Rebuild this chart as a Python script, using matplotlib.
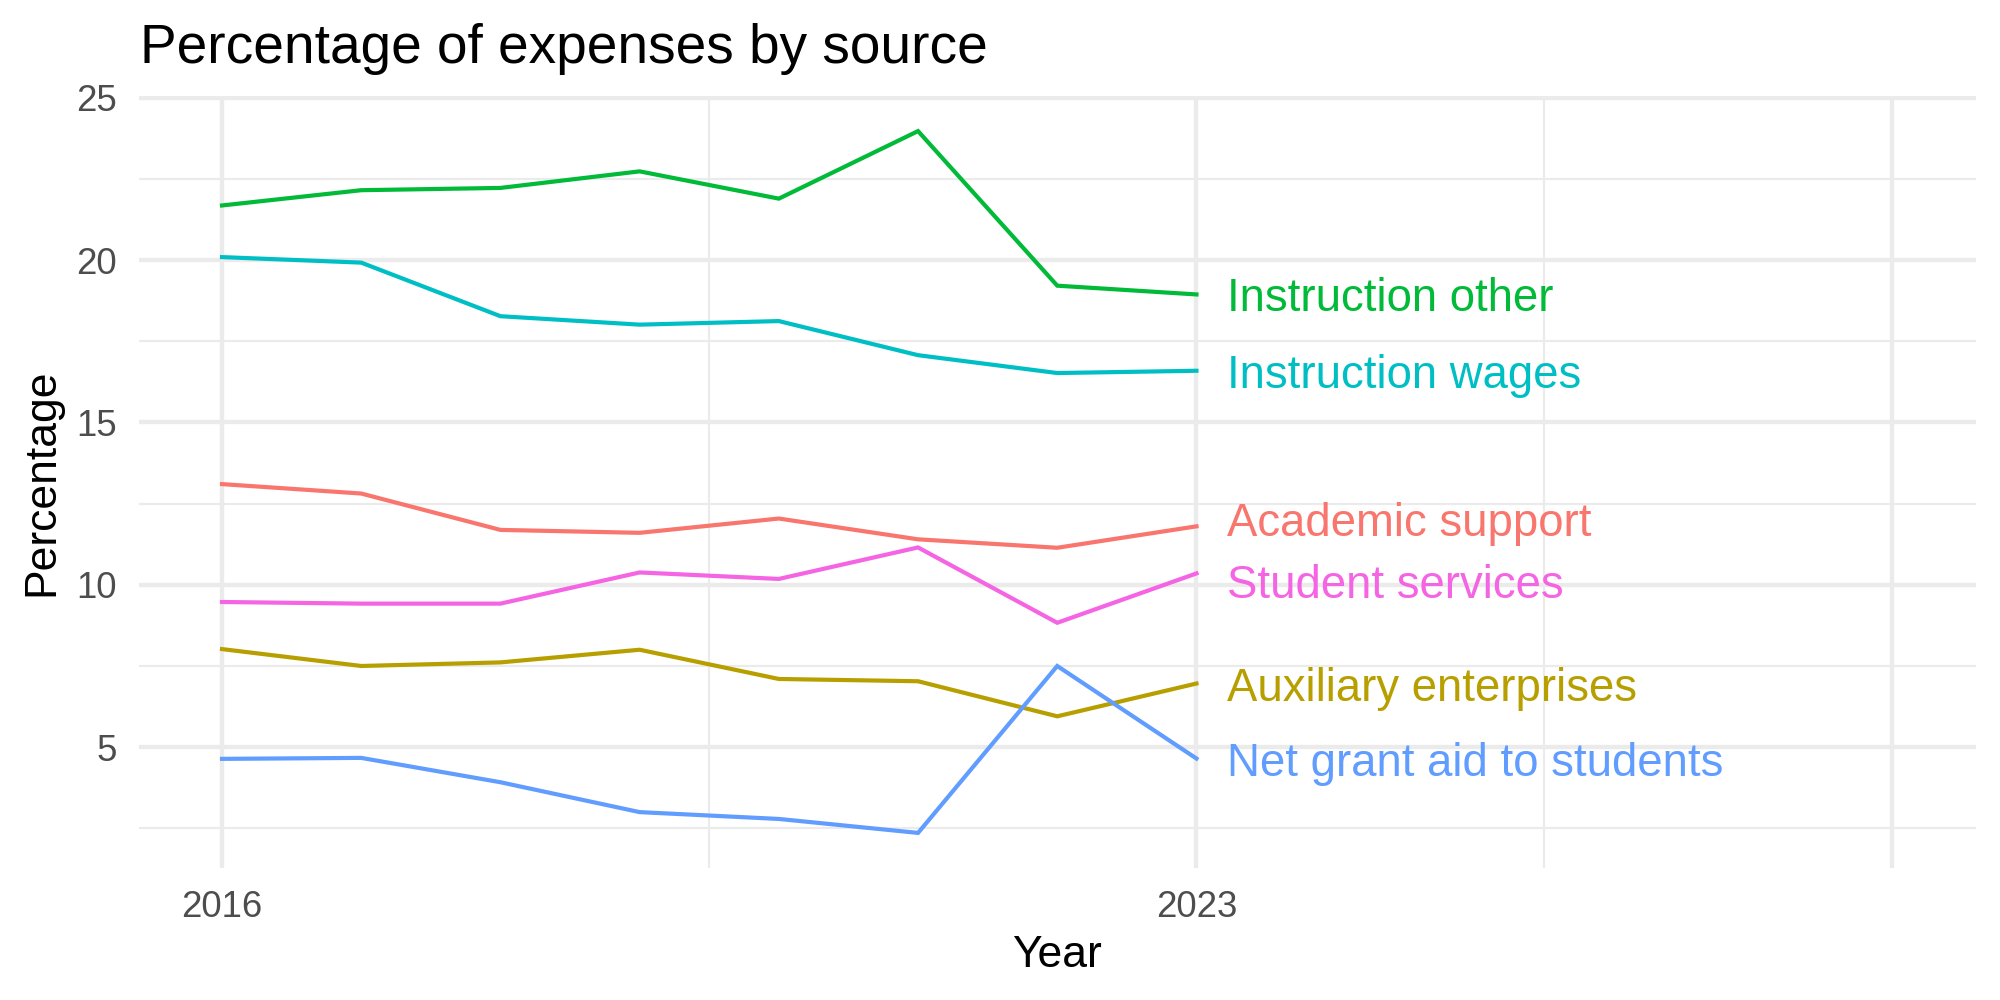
import matplotlib
matplotlib.use("Agg")
import matplotlib.pyplot as plt
import numpy as np

# ---- data ----
years = [2016, 2017, 2018, 2019, 2020, 2021, 2022, 2023]
categories = ["Academic support", "Auxiliary enterprises", "Instruction other",
              "Instruction wages", "Net grant aid to students", "Student services"]
academic_support = [13.10, 12.81, 11.69, 11.60, 12.04, 11.40, 11.14, 11.80]
auxiliary_enterprises = [8.02, 7.50, 7.61, 8.00, 7.10, 7.03, 5.95, 6.96]
instruction_other = [21.68, 22.15, 22.22, 22.73, 21.89, 23.97, 19.21, 18.94]
instruction_wages = [20.09, 19.92, 18.27, 18.01, 18.12, 17.07, 16.52, 16.59]
net_grant_aid = [4.64, 4.67, 3.92, 3.00, 2.79, 2.36, 7.50, 4.65]
student_services = [9.47, 9.42, 9.42, 10.38, 10.18, 11.15, 8.83, 10.35]
series = [academic_support, auxiliary_enterprises, instruction_other,
          instruction_wages, net_grant_aid, student_services]
colors = ["#F8766D", "#B79F00", "#00BA38", "#00BFC4", "#619CFF", "#F564E3"]

x_breaks = [2016, 2023, 2028]
x_labels = ["2016", "2023", ""]
x_minor = [2019.5, 2025.5]
y_breaks = [5, 10, 15, 20, 25]
y_minor = [2.5, 7.5, 12.5, 17.5, 22.5]

title = "Percentage of expenses by source"
xlab = "Year"
ylab = "Percentage"

# ---- style ----
plt.rcParams['font.family'] = ['Liberation Sans', 'DejaVu Sans']
W, H = 2000, 1000
fig = plt.figure(figsize=(10, 5), dpi=200)

left_px, right_px = 138.5, 1976.0
top_px, bottom_px = 96.0, 868.0
ax = fig.add_axes([left_px / W, 1 - bottom_px / H,
                   (right_px - left_px) / W, (bottom_px - top_px) / H])

for s, c in zip(series, colors):
    ax.plot(years, s, color=c, lw=1.5, solid_joinstyle='miter', zorder=3)

# x range: data years plus label room up to 2028, ggplot 5% expansion
xmin, xmax = 2016, 2028
xr = xmax - xmin
ax.set_xlim(xmin - 0.05 * xr, xmax + 0.05 * xr)
allv = np.concatenate([np.array(s) for s in series])
ymin, ymax = allv.min(), allv.max()
yr = ymax - ymin
ax.set_ylim(ymin - 0.05 * yr, ymax + 0.05 * yr)

# end labels with simple repel
last = np.array([s[-1] for s in series])
order = np.argsort(last)
ly = last.copy()
gap = 1.93
for _ in range(50):
    for i in range(len(order) - 1):
        a, b = order[i], order[i + 1]
        d = ly[b] - ly[a]
        if d < gap:
            m = (ly[a] + ly[b]) / 2
            ly[a] = m - gap / 2
            ly[b] = m + gap / 2
for name, yv, c in zip(categories, ly, colors):
    ax.text(years[-1] + 0.22, yv, name, color=c, fontsize=16.4,
            ha='left', va='center_baseline', zorder=4)

# grid
ax.set_xticks(x_breaks)
ax.set_xticklabels(x_labels)
ax.set_xticks(x_minor, minor=True)
ax.set_yticks(y_breaks)
ax.set_yticks(y_minor, minor=True)
ax.grid(which='major', color='#EBEBEB', lw=1.55, zorder=0)
ax.grid(which='minor', color='#EBEBEB', lw=0.78, zorder=0)
ax.set_axisbelow(True)
for sp in ax.spines.values():
    sp.set_visible(False)
ax.tick_params(which='both', length=0, labelsize=13.2, labelcolor='#4D4D4D', pad=7.9)

fig.text(140 / W, 1 - 62.7 / H, title, fontsize=19.8, ha='left', va='baseline', color='black')
fig.text((left_px + right_px) / 2 / W, 1 - 967 / H, xlab, fontsize=16, ha='center',
         va='baseline', color='black')
fig.text(42 / W, 1 - ((top_px + bottom_px) / 2) / H, ylab, fontsize=16, ha='center',
         va='center', rotation=90, color='black')

fig.savefig("out.png", dpi=200, facecolor='white')
